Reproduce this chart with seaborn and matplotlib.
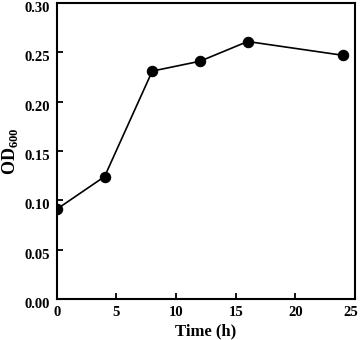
import seaborn as sns
import matplotlib.pyplot as plt
import matplotlib.transforms as mtransforms
import pandas as pd

time_h = [0, 4, 8, 12, 16, 24]
od600 = [0.091, 0.124, 0.231, 0.241, 0.261, 0.247]
od_err = [0.003, 0.004, 0.002, 0.003, 0.002, 0.004]

data = pd.DataFrame({"time": time_h, "od": od600, "err": od_err})

sns.set_style("ticks")
plt.rcParams["font.family"] = ["Liberation Serif", "DejaVu Serif"]
plt.rcParams["font.weight"] = "bold"
plt.rcParams["text.color"] = "black"
plt.rcParams["axes.labelcolor"] = "black"
plt.rcParams["xtick.color"] = "black"
plt.rcParams["ytick.color"] = "black"
plt.rcParams["mathtext.fontset"] = "custom"
plt.rcParams["mathtext.rm"] = "Liberation Serif:bold"
plt.rcParams["mathtext.bf"] = "Liberation Serif:bold"

fig = plt.figure(figsize=(3.6, 3.4), dpi=100)
ax = fig.add_axes([0.158, 0.121, 0.828, 0.870])

ax.errorbar(data["time"], data["od"], yerr=data["err"], fmt="none",
            ecolor="black", elinewidth=1.2, capsize=0, zorder=2)
sns.lineplot(data=data, x="time", y="od", ax=ax, color="black", lw=1.2,
             marker="o", markersize=7.5, markeredgecolor="black", zorder=3)

ax.set_xlim(0, 25)
ax.set_ylim(0, 0.30)
ax.set_xticks([0, 5, 10, 15, 20, 25])
ax.set_yticks([0, 0.05, 0.10, 0.15, 0.20, 0.25, 0.30])
ax.set_yticklabels([f"{v:.2f}" for v in ax.get_yticks()])
ax.tick_params(direction="in", length=4, width=1.3, labelsize=10.5,
               top=False, right=False, pad=5)
shift = mtransforms.ScaledTranslation(0, -4 / 100, fig.dpi_scale_trans)
for lab in ax.get_yticklabels():
    lab.set_transform(lab.get_transform() + shift)
last = ax.get_xticklabels()[-1]
last.set_transform(last.get_transform() +
                   mtransforms.ScaledTranslation(-4 / 100, 0, fig.dpi_scale_trans))
for lab in ax.get_xticklabels() + ax.get_yticklabels():
    lab.set_fontweight("bold")
for s in ax.spines.values():
    s.set_visible(True)
    s.set_linewidth(1.5)
    s.set_color("black")

ax.set_xlabel("Time (h)", fontsize=12, fontweight="bold", labelpad=3)
ax.set_ylabel(r"OD$_{\mathbf{600}}$", fontsize=13, fontweight="bold", labelpad=3)

fig.savefig("out.png", dpi=100)
